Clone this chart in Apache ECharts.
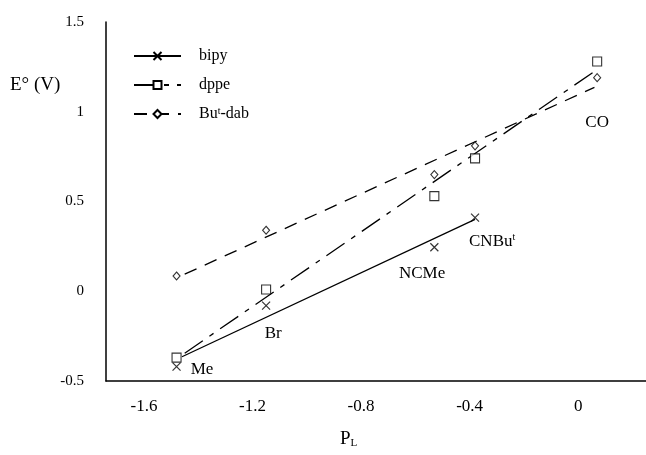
<!DOCTYPE html>
<html>
<head>
<meta charset="utf-8">
<script src="https://cdn.jsdelivr.net/npm/echarts@6/dist/echarts.min.js"></script>
<style>
html,body{margin:0;padding:0;background:#fff;}
#chart{width:646px;height:455px;}
</style>
</head>
<body>
<div id="chart"></div>
<script>
// ---- data ----
const ligands = ['Me', 'Br', 'NCMe', 'CNBut', 'CO'];
const pL = [-1.48, -1.15, -0.53, -0.38, 0.07];
const bipyE = [-0.42, -0.08, 0.245, 0.41];
const dppeE = [-0.37, 0.01, 0.53, 0.74, 1.28];
const dabE = [0.085, 0.34, 0.65, 0.81, 1.19];
// fitted straight lines (end points)
const bipyFit = [[-1.46, -0.365], [-0.38, 0.40]];
const dppeFit = [[-1.45, -0.345], [0.06, 1.225]];
const dabFit = [[-1.45, 0.095], [0.06, 1.136]];
// annotation labels: text and anchor (data units)
const noteText = ['Me', 'Br', 'NCMe', 'CNBu{sup|t}', 'CO'];
const noteX = [-1.386, -1.124, -0.575, -0.317, 0.07];
const noteY = [-0.434, -0.234, 0.10, 0.278, 0.94];
const xTicks = [-1.6, -1.2, -0.8, -0.4, 0];
const seriesNames = ['bipy', 'dppe', 'But-dab'];

const FONT = '"Liberation Serif", "DejaVu Serif", serif';
const crossPath = 'path://M0,0L10,10M10,0L0,10';

const chart = echarts.init(document.getElementById('chart'), null, {renderer: 'canvas'});

const pts = (ys) => ys.map((y, i) => [pL[i], y]);
const markerStyle = {color: '#fff', borderColor: '#000', borderWidth: 1.1};

const option = {
  backgroundColor: '#fff',
  animation: false,
  textStyle: {fontFamily: FONT, color: '#000'},
  grid: {left: 106, top: 22, right: 0, bottom: 74, containLabel: false},
  legend: {
    left: 133, top: 48, orient: 'vertical',
    itemWidth: 47, itemHeight: 10, itemGap: 13,
    padding: 0,
    data: seriesNames,
    textStyle: {
      fontFamily: FONT, fontSize: 16, color: '#000', padding: [0, 0, 0, 13],
      rich: {sup: {fontFamily: FONT, fontSize: 10, color: '#000', verticalAlign: 'top', lineHeight: 12}}
    },
    formatter: (n) => n === 'But-dab' ? 'Bu{sup|t}-dab' : n,
    selectedMode: false
  },
  xAxis: {
    type: 'value', min: -1.74, max: 0.25,
    axisLine: {show: true, onZero: false, lineStyle: {color: '#000', width: 1.5}},
    axisTick: {show: false},
    splitLine: {show: false},
    axisLabel: {
      customValues: xTicks, margin: 17,
      fontFamily: FONT, fontSize: 17, color: '#000',
      formatter: (v) => String(v)
    }
  },
  yAxis: {
    type: 'value', min: -0.5, max: 1.5, interval: 0.5,
    axisLine: {show: true, onZero: false, lineStyle: {color: '#000', width: 1.5}},
    axisTick: {show: false},
    splitLine: {show: false},
    axisLabel: {margin: 22, fontFamily: FONT, fontSize: 15, color: '#000', formatter: (v) => String(v)}
  },
  graphic: [
    {type: 'text', left: 10, top: 76, style: {text: 'E° (V)', font: '19px ' + FONT, fill: '#000'}},
    {type: 'text', left: 340, top: 430, style: {
      text: 'P{sub|L}', font: '19px ' + FONT, fill: '#000',
      rich: {sub: {fontFamily: FONT, fontSize: 11, fill: '#000', padding: [8, 0, 0, 0]}}
    }}
  ],
  series: [
    {
      name: 'bipy', type: 'line', data: bipyFit, showSymbol: false,
      symbol: crossPath, symbolSize: 8, itemStyle: {color: '#000', borderColor: '#000', borderWidth: 1},
      lineStyle: {color: '#000', width: 1.3, type: 'solid'}, z: 2, silent: true
    },
    {
      name: 'dppe', type: 'line', data: dppeFit, showSymbol: false,
      symbol: 'rect', symbolSize: 8, itemStyle: markerStyle,
      lineStyle: {color: '#000', width: 1.3, type: [22, 8, 5, 8]}, z: 2, silent: true
    },
    {
      name: 'But-dab', type: 'line', data: dabFit, showSymbol: false,
      symbol: 'diamond', symbolSize: 8, itemStyle: markerStyle,
      lineStyle: {color: '#000', width: 1.3, type: [13, 9]}, z: 2, silent: true
    },
    {
      name: 'bipy pts', type: 'scatter', data: pts(bipyE), symbol: crossPath, symbolSize: 8,
      itemStyle: {color: 'transparent', borderColor: '#000', borderWidth: 1.2}, z: 3, silent: true
    },
    {
      name: 'dppe pts', type: 'scatter', data: pts(dppeE), symbol: 'rect', symbolSize: 9,
      itemStyle: markerStyle, z: 3, silent: true
    },
    {
      name: 'dab pts', type: 'scatter', data: pts(dabE), symbol: 'diamond', symbolSize: [7, 8],
      itemStyle: markerStyle, z: 3, silent: true
    },
    {
      name: 'notes', type: 'scatter', symbol: 'circle', symbolSize: 0, silent: true, z: 4,
      itemStyle: {color: '#000', opacity: 1},
      data: noteText.map((t, i) => ({value: [noteX[i], noteY[i]], label: {formatter: t}})),
      label: {
        show: true, position: 'top', distance: 0, align: 'center', verticalAlign: 'middle',
        fontFamily: FONT, fontSize: 17, color: '#000', opacity: 1,
        rich: {sup: {fontFamily: FONT, fontSize: 10, color: '#000', verticalAlign: 'top', lineHeight: 12}}
      },
      labelLayout: {hideOverlap: false}
    }
  ]
};
chart.setOption(option);
</script>
</body>
</html>
